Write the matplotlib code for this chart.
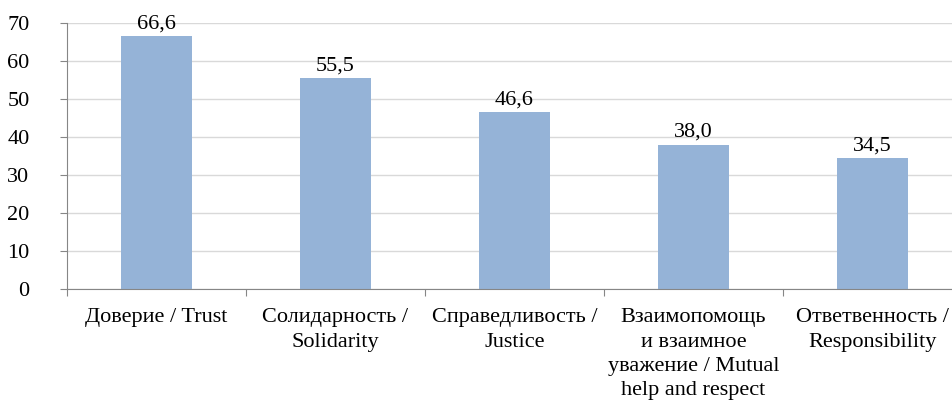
import matplotlib.pyplot as plt

categories = [
    "Доверие / Trust",
    "Солидарность /\nSolidarity",
    "Справедливость /\nJustice",
    "Взаимопомощь\nи взаимное\nуважение / Mutual\nhelp and respect",
    "Ответвенность /\nResponsibility",
]
values = [66.6, 55.5, 46.6, 38.0, 34.5]
value_labels = ["66,6", "55,5", "46,6", "38,0", "34,5"]

plt.rcParams["font.family"] = ["Liberation Serif", "DejaVu Serif"]

fig = plt.figure(figsize=(9.53, 4), dpi=100)
ax = fig.add_axes([67 / 953, 1 - 289 / 400, 895 / 953, 266 / 400])

x = list(range(len(categories)))
bars = ax.bar(x, values, width=0.4, color="#95B3D7", zorder=2)

for b, lab in zip(bars, value_labels):
    ax.annotate(lab, (b.get_x() + b.get_width() / 2, b.get_height()),
                xytext=(0, 2), textcoords="offset points",
                ha="center", va="bottom", fontsize=16)

ax.set_xlim(-0.5, len(categories) - 0.5)
ax.set_ylim(0, 70)
ax.set_yticks(range(0, 71, 10))
ax.tick_params(axis="y", labelsize=16, length=5, color="#868686", pad=22)

# category labels centred, tick marks between categories
ax.set_xticks([i - 0.5 for i in range(len(categories) + 1)])
ax.set_xticklabels([])
ax.set_xticks(x, minor=True)
ax.set_xticklabels(categories, minor=True, fontsize=16, va="top", linespacing=1.38)
ax.tick_params(axis="x", which="major", length=5, color="#868686")
ax.tick_params(axis="x", which="minor", length=0, pad=14)

ax.grid(True, axis="y", color="#D9D9D9", linewidth=1, zorder=0)
for s in ["top", "right"]:
    ax.spines[s].set_visible(False)
for s in ["left", "bottom"]:
    ax.spines[s].set_color("#868686")

fig.savefig("out.png", dpi=100)
